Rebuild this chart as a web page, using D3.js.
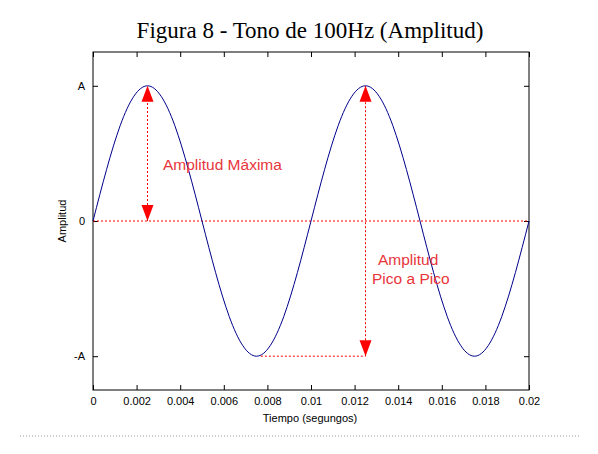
<!DOCTYPE html>
<html><head><meta charset="utf-8">
<script src="https://cdn.jsdelivr.net/npm/d3@7"></script>
<style>body{margin:0;background:#fff}</style>
</head><body>
<svg id="chart" width="598" height="454"></svg>
<script>
// muestras de la onda (t en segundos, amplitud relativa)
var tiempo = [0,0.00125,0.0025,0.00375,0.005,0.00625,0.0075,0.00875,0.01,0.01125,0.0125,0.01375,0.015,0.01625,0.0175,0.01875,0.02]
var amplitud = [0,0.707,1,0.707,0,-0.707,-1,-0.707,0,0.707,1,0.707,0,-0.707,-1,-0.707,0]
var xTicks = [0,0.002,0.004,0.006,0.008,0.01,0.012,0.014,0.016,0.018,0.02]
var yTicks = [-1,0,1]
var yLabels = ["-A","0","A"]

var margin = {top: 52, right: 69, bottom: 64, left: 93}
var width = 598, height = 454

var x = d3.scaleLinear().domain([0, 0.02]).range([margin.left, width - margin.right])
var y = d3.scaleLinear().domain([-1.25, 1.25]).range([height - margin.bottom, margin.top])

var svg = d3.select("#chart")
var data = tiempo.map((t, i) => ({t: t, v: amplitud[i]}))

svg.append("text").attr("x", 310).attr("y", 38).attr("text-anchor", "middle")
  .style("font-family", "Liberation Serif, serif").style("font-size", "23px").text("Figura 8 - Tono de 100Hz (Amplitud)")

svg.append("rect").attr("x", margin.left).attr("y", margin.top)
  .attr("width", x(0.02) - x(0)).attr("height", y(-1.25) - y(1.25))
  .attr("fill", "none").attr("stroke", "#000")

var font = "Liberation Sans, Arial, sans-serif"
svg.append("g").attr("transform", `translate(0,${y(-1.25)})`)
  .call(d3.axisBottom(x).tickValues(xTicks).tickSize(-5).tickPadding(7).tickFormat(d => d3.format("~g")(+d.toFixed(4))))
  .call(g => g.select(".domain").remove())
  .call(g => g.selectAll("text").style("font-family", font).style("font-size", "11px"))
svg.append("g").attr("transform", `translate(0,${y(1.25)})`)
  .call(d3.axisTop(x).tickValues(xTicks).tickSize(-5).tickFormat(""))
  .call(g => g.select(".domain").remove())
svg.append("g").attr("transform", `translate(${margin.left},0)`)
  .call(d3.axisLeft(y).tickValues(yTicks).tickSize(-5).tickPadding(8).tickFormat((d, i) => yLabels[i]))
  .call(g => g.select(".domain").remove())
  .call(g => g.selectAll("text").style("font-family", font).style("font-size", "11px"))
svg.append("g").attr("transform", `translate(${width - margin.right},0)`)
  .call(d3.axisRight(y).tickValues(yTicks).tickSize(-5).tickFormat(""))
  .call(g => g.select(".domain").remove())

svg.append("text").attr("x", 310).attr("y", 422).attr("text-anchor", "middle")
  .style("font-family", font).style("font-size", "11px").text("Tiempo (segungos)")
svg.append("text").attr("transform", `translate(66,${y(0)}) rotate(-90)`).attr("text-anchor", "middle")
  .style("font-family", font).style("font-size", "11px").text("Amplitud")

// línea de cero
svg.append("line").attr("x1", x(0)).attr("x2", x(0.02)).attr("y1", y(0)).attr("y2", y(0))
  .attr("stroke", "#f00").attr("stroke-dasharray", "2,2")

svg.append("path").datum(data).attr("fill", "none").attr("stroke", "#00008b").attr("stroke-width", 1)
  .attr("d", d3.line().x(d => x(d.t)).y(d => y(d.v)).curve(d3.curveNatural))

var red = "#ff0000"
function flecha(t, v0, v1) {
  svg.append("line").attr("x1", x(t)).attr("x2", x(t)).attr("y1", y(v0)).attr("y2", y(v1))
    .attr("stroke", red).attr("stroke-dasharray", "2,2")
  ;[[v1, 1], [v0, -1]].forEach(([v, dir]) => {
    var px = x(t), py = y(v)
    svg.append("path").attr("fill", red)
      .attr("d", `M${px},${py}L${px - 6},${py + dir * 16}L${px + 6},${py + dir * 16}Z`)
  })
}
flecha(0.0025, 0, 1)
flecha(0.0125, -1, 1)
svg.append("line").attr("x1", x(0.0077)).attr("x2", x(0.0125)).attr("y1", y(-1)).attr("y2", y(-1))
  .attr("stroke", red).attr("stroke-dasharray", "2,2")

svg.append("text").attr("x", 163).attr("y", 170).attr("fill", "#e8353a")
  .style("font-family", font).style("font-size", "15.5px").text("Amplitud Máxima")
svg.append("text").attr("x", 378).attr("y", 265).attr("fill", "#e8353a")
  .style("font-family", font).style("font-size", "15.5px").text("Amplitud")
svg.append("text").attr("x", 372).attr("y", 284).attr("fill", "#e8353a")
  .style("font-family", font).style("font-size", "15.5px").text("Pico a Pico")

svg.append("line").attr("x1", 20).attr("x2", 580).attr("y1", 436).attr("y2", 436)
  .attr("stroke", "#999").attr("stroke-dasharray", "1,2")
</script>
</body></html>
